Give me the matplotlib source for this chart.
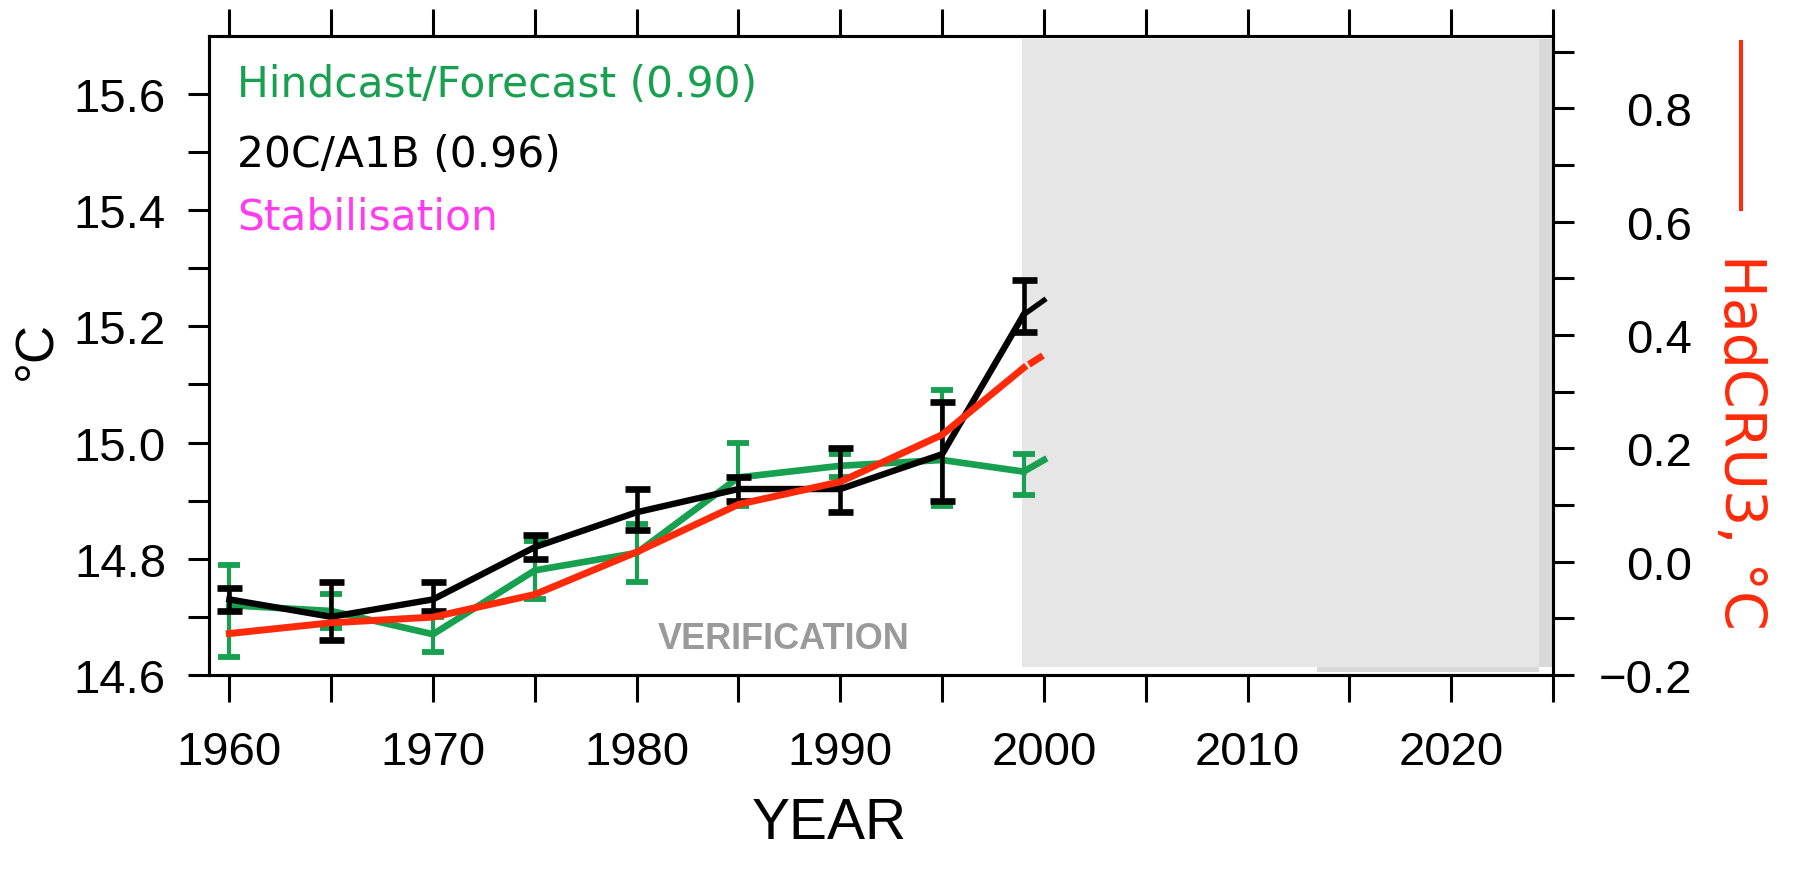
import numpy as np
import matplotlib
matplotlib.use('Agg')
import matplotlib.pyplot as plt
from matplotlib.lines import Line2D
from matplotlib.ticker import FixedLocator, FuncFormatter

plt.rcParams['font.family'] = ['Liberation Sans', 'DejaVu Sans']

C = {'green': '#17a04f', 'black': '#000000', 'red': '#ff2a0a',
     'mag': '#ff3cf0', 'shade': '#e6e6e6', 'shade_dk': '#d9d9d9', 'verif': '#9a9a9a'}

# 5-year means, last point 1999
years = [1960, 1965, 1970, 1975, 1980, 1985, 1990, 1995, 1999]

# 20C/A1B ensemble (left axis, degC)
a1b = [14.73, 14.70, 14.73, 14.82, 14.88, 14.92, 14.92, 14.98, 15.22]
a1b_lo = [14.71, 14.66, 14.71, 14.80, 14.85, 14.90, 14.88, 14.90, 15.19]
a1b_hi = [14.75, 14.76, 14.76, 14.84, 14.92, 14.94, 14.99, 15.07, 15.28]

# Hindcast/Forecast (left axis, degC)
hind = [14.72, 14.71, 14.67, 14.78, 14.81, 14.94, 14.96, 14.97, 14.95]
hind_lo = [14.63, 14.68, 14.64, 14.73, 14.76, 14.89, 14.94, 14.89, 14.91]
hind_hi = [14.79, 14.74, 14.70, 14.83, 14.86, 15.00, 14.98, 15.09, 14.98]

# HadCRU3 anomaly (right axis, degC)
had = [-0.127, -0.108, -0.098, -0.058, 0.017, 0.101, 0.141, 0.224, 0.342]

# continuation into 2000
tail_years = [1999, 2000]
a1b_tail = [15.22, 15.245]
hind_tail = [14.95, 14.97]
had_tail = [0.342, 0.365]

fig = plt.figure(figsize=(18.08, 8.87), dpi=100)
ax = fig.add_axes([0.1156, 0.238, 0.7434, 0.7203])
ax2 = ax.twinx()

# verification / forecast shading
ax.axvspan(1998.9, 2024.3, ymin=0.0125, ymax=0.995, color=C['shade'], lw=0, zorder=0)
ax.axvspan(2024.3, 2025, ymin=0.0125, ymax=0.995, color=C['shade_dk'], lw=0, zorder=0)
ax.axvspan(2013.4, 2024.3, ymin=0.005, ymax=0.0125, color=C['shade_dk'], lw=0, zorder=0)

def err(v, lo, hi):
    v = np.array(v); return [v - np.array(lo), np.array(hi) - v]

ax.plot(years, hind, color=C['green'], lw=4.8, zorder=2, solid_joinstyle='round')
ax.plot(tail_years, hind_tail, color=C['green'], lw=4.8, zorder=2)
ax.errorbar(years, hind, yerr=err(hind, hind_lo, hind_hi), fmt='none', ecolor=C['green'],
            elinewidth=3.0, capsize=8, capthick=4.2, zorder=2)

ax.plot(years, a1b, color=C['black'], lw=4.6, zorder=3, solid_joinstyle='round')
ax.plot(tail_years, a1b_tail, color=C['black'], lw=3.8, zorder=3)
ax.errorbar(years, a1b, yerr=err(a1b, a1b_lo, a1b_hi), fmt='none', ecolor=C['black'],
            elinewidth=3.3, capsize=9, capthick=4.8, zorder=3)

ax2.plot(years, had, color=C['red'], lw=5.0, zorder=4, solid_joinstyle='round')
ax2.plot(tail_years, had_tail, color=C['red'], lw=5.0, zorder=4,
         linestyle=(2.4, (2.4, 0.9)))

ax.text(1987.2, 14.662, 'VERIFICATION', color=C['verif'], fontsize=26, weight='bold',
        ha='center', va='center', zorder=1)

# labels for the runs
lx = 0.0211
kw = dict(transform=ax.transAxes, fontsize=30.5, family='DejaVu Sans', va='baseline')
ax.text(lx, 0.906, 'Hindcast/Forecast (0.90)', color=C['green'], **kw)
ax.text(lx, 0.797, '20C/A1B (0.96)', color='black', **kw)
ax.text(lx, 0.698, 'Stabilisation', color=C['mag'], **kw)

# axes
ax.set_xlim(1959, 2025)
ax.set_ylim(14.6, 15.7)
ax2.set_ylim(-0.2, 0.928)

fmt = FuncFormatter(lambda v, p: f'{v:.1f}'.replace('-', '\u2212'))
ax.xaxis.set_major_locator(FixedLocator(np.arange(1960, 2021, 10)))
ax.xaxis.set_minor_locator(FixedLocator(np.arange(1965, 2026, 10)))
ax.yaxis.set_major_locator(FixedLocator(np.round(np.arange(14.6, 15.61, 0.2), 1)))
ax.yaxis.set_minor_locator(FixedLocator(np.round(np.arange(14.7, 15.51, 0.2), 1)))
ax.yaxis.set_major_formatter(fmt)
ax2.yaxis.set_major_locator(FixedLocator(np.round(np.arange(-0.2, 0.81, 0.2), 1)))
ax2.yaxis.set_minor_locator(FixedLocator(np.round(np.arange(-0.1, 0.91, 0.2), 1)))
ax2.yaxis.set_major_formatter(fmt)

for a in (ax, ax2):
    for s in a.spines.values():
        s.set_linewidth(2.2)

ax.tick_params(axis='x', which='both', direction='out', length=19.5, width=2.2,
               top=True, bottom=True, labelsize=34, pad=20)
ax.tick_params(axis='y', which='both', direction='out', length=15, width=2.2,
               left=True, right=False, labelsize=34, pad=16)
ax2.tick_params(axis='y', which='both', direction='out', length=15, width=2.2,
                right=True, left=False, labelsize=34, pad=85)
for t in ax2.get_yticklabels():
    t.set_horizontalalignment('right')

fig.text(0.4585, 0.071, 'YEAR', fontsize=41, ha='center', va='center',
         family=['Liberation Sans Narrow', 'Liberation Sans'])
fig.text(0.020, 0.605, '°C', fontsize=38, rotation=90, ha='center', va='center')

# right-hand axis key
fig.add_artist(Line2D([0.963, 0.963], [0.9515, 0.763], transform=fig.transFigure,
                      color=C['red'], lw=2.9))
fig.text(0.962, 0.502, 'HadCRU3, °C', fontsize=41, rotation=-90, color=C['red'],
         ha='center', va='center', family='DejaVu Sans')

fig.savefig('out.png', dpi=100, facecolor='white')
